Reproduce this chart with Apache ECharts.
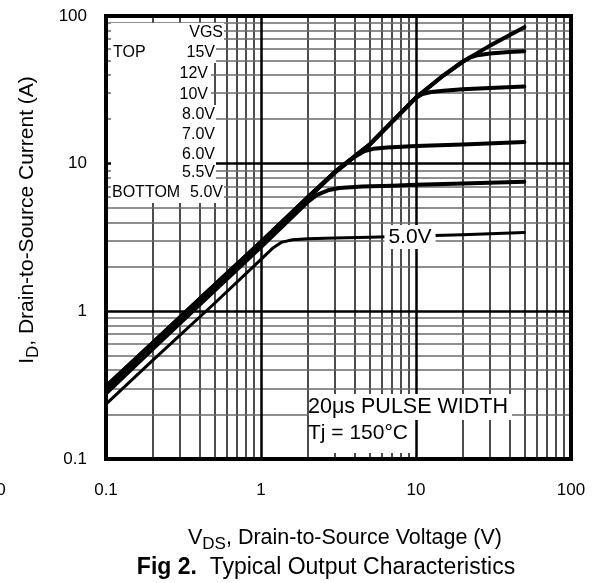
<!DOCTYPE html>
<html><head><meta charset="utf-8">
<script src="https://cdn.jsdelivr.net/npm/echarts@6/dist/echarts.min.js"></script>
<style>html,body{margin:0;padding:0;background:#fff}#c{width:595px;height:583px}</style>
</head><body><div id="c"></div>
<script>
const FONT = '"Liberation Sans", Arial, Helvetica, sans-serif';

// ---- tick labels ----
const xTickLabels = ['0.1', '1', '10', '100'];
const yTickLabels = ['0.1', '1', '10', '100'];
// ---- grid line values (log decades 0.1..100) ----
const gridMinor = [0.2,0.3,0.4,0.5,0.6,0.7,0.8,0.9, 2,3,4,5,6,7,8,9, 20,30,40,50,60,70,80,90];
const gridMajor = [1, 10];

// ---- series (VDS in V, ID in A) ----
const seriesNames = ['15V', '8.0V', '7.0V', '6.0V', '5.5V', '5.0V'];
const vds15 = [0.1,0.2,0.5,1,2,3,5,7,10,15,20,30,40,50];
const id15  = [0.31,0.61,1.5,2.95,5.9,8.8,13.4,19.2,28,39.5,49,63,74,84];
const vds8  = [0.1,0.2,0.5,1,2,3,5,7,10,15,20,22,25,30,40,50];
const id8   = [0.31,0.61,1.5,2.95,5.9,8.8,13.4,19.2,28,39.5,49,52,54.3,55.8,57,57.8];
const vds7  = [0.1,0.2,0.5,1,2,3,5,7,10,11,12.5,15,20,30,50];
const id7   = [0.31,0.61,1.5,2.95,5.9,8.8,13.4,19.2,28,29.6,30.6,31.2,31.9,32.5,33.3];
const vds6  = [0.1,0.2,0.5,1,2,3,4,4.6,5.3,6.5,10,20,50];
const id6   = [0.3,0.6,1.47,2.9,5.8,8.7,11.1,12.1,12.6,12.85,13.15,13.5,14.0];
const vds55 = [0.1,0.2,0.5,1,2,2.3,2.7,3.2,4.5,7,10,20,50];
const id55  = [0.278,0.555,1.38,2.72,5.5,6.15,6.6,6.85,7.0,7.1,7.2,7.35,7.55];
const vds5  = [0.1,0.2,0.5,1,1.2,1.35,1.6,2,3,5,10,20,50];
const id5   = [0.235,0.465,1.13,2.25,2.7,2.93,3.05,3.1,3.14,3.18,3.24,3.3,3.42];

const curveX = [vds15, vds8, vds7, vds6, vds55, vds5];
const curveY = [id15, id8, id7, id6, id55, id5];

// ---- texts ----
const legendHeader = 'VGS';
const legendLabels = ['15V','12V','10V','8.0V','7.0V','6.0V','5.5V','5.0V'];
const curveLabel = '5.0V';
const noteLines = ['20\u03bcs PULSE WIDTH', 'Tj = 150\u00b0C'];

const chart = echarts.init(document.getElementById('c'), null, {renderer: 'canvas'});

const zip = (xs, ys) => xs.map((x, i) => [x, ys[i]]);
const lineSeries = seriesNames.map((n, i) => ({
  name: n, type: 'line', data: zip(curveX[i], curveY[i]),
  showSymbol: false, smooth: false, z: 10, silent: true,
  lineStyle: {color: '#000', width: i === 5 ? 3 : 4, join: 'round', cap: 'round'}
}));

const vMinorStyle = {color: '#111', width: 1.5, type: 'solid'};
const hMinorStyle = {color: '#6a6a6a', width: 1.5, type: 'solid'};
const majorStyle = {color: '#000', width: 2.5, type: 'solid'};
const gridLineData = []
  .concat(gridMinor.map(v => ({xAxis: v, lineStyle: vMinorStyle})))
  .concat(gridMinor.map(v => ({yAxis: v, lineStyle: hMinorStyle})))
  .concat(gridMajor.map(v => ({xAxis: v, lineStyle: majorStyle})))
  .concat(gridMajor.map(v => ({yAxis: v, lineStyle: majorStyle})));

const gridSeries = {
  type: 'line', data: [], z: 1, silent: true,
  markLine: {silent: true, symbol: 'none', animation: false, label: {show: false},
    emphasis: {disabled: true}, data: gridLineData}
};

const legendRows = [
  {t: legendHeader, x: 224, y: 33},
  {t: legendLabels[0], x: 216, y: 53},
  {t: legendLabels[1], x: 209, y: 74},
  {t: legendLabels[2], x: 209, y: 95},
  {t: legendLabels[3], x: 216, y: 115},
  {t: legendLabels[4], x: 216, y: 135},
  {t: legendLabels[5], x: 216, y: 155},
  {t: legendLabels[6], x: 216, y: 173},
  {t: legendLabels[7], x: 224, y: 193}
];

function txt(o) {
  return {
    type: 'text', x: o.x, y: o.y, z: 40, rotation: o.rot || 0, silent: true,
    style: Object.assign({
      text: o.t, fill: '#000', font: (o.w || 'normal') + ' ' + o.s + 'px ' + FONT,
      align: o.a || 'left', verticalAlign: 'middle',
      textAlign: o.a || 'left', textVerticalAlign: 'middle'
    }, o.extra || {})
  };
}

const graphics = [
  // white legend area
  {type: 'rect', z: 30, silent: true, shape: {x: 111, y: 23, width: 100, height: 180}, style: {fill: '#fff'}},
  // white note area
  {type: 'rect', z: 30, silent: true, shape: {x: 309, y: 394, width: 203, height: 26}, style: {fill: '#fff'}},
  {type: 'rect', z: 30, silent: true, shape: {x: 309, y: 420, width: 105, height: 33}, style: {fill: '#fff'}},
  txt({t: 'TOP', x: 113, y: 53, s: 16}),
  txt({t: 'BOTTOM', x: 112, y: 193, s: 16}),
  txt({t: noteLines[0], x: 308, y: 407, s: 21.5}),
  txt({t: noteLines[1], x: 308, y: 433, s: 21}),
  txt({t: curveLabel, x: 410, y: 237, s: 21, a: 'center', extra: {backgroundColor: '#fff', padding: [2, 4, 1, 4]}}),
  txt({t: '0', x: 1, y: 490, s: 17, a: 'center'}),
  // axis titles
  {type: 'text', x: 345, y: 538, z: 40, silent: true, style: {
    text: '{m|V}{s|DS}{m|, Drain-to-Source Voltage (V)}', align: 'center', verticalAlign: 'middle',
    textAlign: 'center', textVerticalAlign: 'middle', fill: '#000',
    rich: {m: {fontSize: 21.5, fontFamily: FONT, fill: '#000', color: '#000'},
           s: {fontSize: 17, fontFamily: FONT, fill: '#000', color: '#000', padding: [13, 0, 0, 0]}}
  }},
  {type: 'text', x: 27, y: 220, z: 40, rotation: Math.PI / 2, silent: true, style: {
    text: '{m|I}{s|D}{m|, Drain-to-Source Current (A)}', align: 'center', verticalAlign: 'middle',
    textAlign: 'center', textVerticalAlign: 'middle', fill: '#000',
    rich: {m: {fontSize: 21, fontFamily: FONT, fill: '#000', color: '#000'},
           s: {fontSize: 17, fontFamily: FONT, fill: '#000', color: '#000', padding: [13, 0, 0, 0]}}
  }},
  {type: 'text', x: 326, y: 568, z: 40, silent: true, style: {
    text: '{b|Fig 2.}{m|  Typical Output Characteristics}', align: 'center', verticalAlign: 'middle',
    textAlign: 'center', textVerticalAlign: 'middle', fill: '#000',
    rich: {b: {fontSize: 23, fontWeight: 'bold', fontFamily: FONT, fill: '#000', color: '#000'},
           m: {fontSize: 23, fontFamily: FONT, fill: '#000', color: '#000'}}
  }}
].concat(legendRows.map(r => txt({t: r.t, x: r.x, y: r.y, s: 16, a: 'right',
  extra: {backgroundColor: '#fff', padding: [2, 1, 2, 2]}})));

const logIdx = v => Math.round(Math.log10(v)) + 1;

chart.setOption({
  animation: false,
  backgroundColor: '#fff',
  grid: {left: 106, right: 24, top: 16, bottom: 124, show: true, z: 20,
    borderColor: '#000', borderWidth: 4, backgroundColor: 'transparent'},
  xAxis: [{
    type: 'log', logBase: 10, min: 0.1, max: 100, position: 'bottom',
    axisLine: {show: false}, axisTick: {show: false}, splitLine: {show: false},
    axisLabel: {fontSize: 17, fontFamily: FONT, color: '#000', margin: 23,
      formatter: v => xTickLabels[logIdx(v)]}
  }],
  yAxis: [{
    type: 'log', logBase: 10, min: 0.1, max: 100, position: 'left',
    axisLine: {show: false}, axisTick: {show: false}, splitLine: {show: false},
    axisLabel: {fontSize: 17, fontFamily: FONT, color: '#000', margin: 19,
      formatter: v => yTickLabels[logIdx(v)]}
  }],
  series: [gridSeries].concat(lineSeries),
  graphic: {elements: graphics}
});
</script></body></html>
